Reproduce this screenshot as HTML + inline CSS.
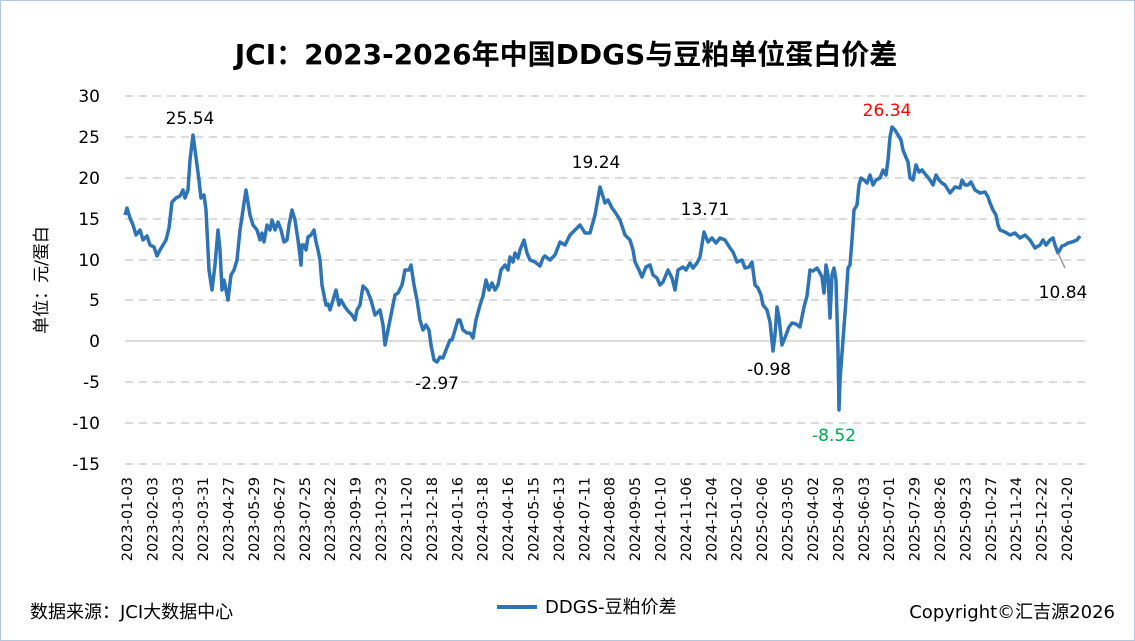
<!DOCTYPE html>
<html><head><meta charset="utf-8"><style>
body{margin:0;background:#fff;}
svg{display:block;font-family:"DejaVu Sans","Noto Sans CJK SC",sans-serif;}
</style></head><body>
<svg width="1135" height="641" viewBox="0 0 1135 641">
<rect x="0.5" y="0.5" width="1134" height="640" fill="#fff" stroke="#b4c7dc"/>
<text x="566" y="64" text-anchor="middle" font-size="28" font-weight="bold" fill="#000">JCI：2023-2026年中国DDGS与豆粕单位蛋白价差</text>
<g stroke="#d0d0d0" stroke-width="1.5" stroke-dasharray="8,6">
<line x1="125" y1="96" x2="1085" y2="96"/><line x1="125" y1="137" x2="1085" y2="137"/>
<line x1="125" y1="178" x2="1085" y2="178"/><line x1="125" y1="219" x2="1085" y2="219"/>
<line x1="125" y1="260" x2="1085" y2="260"/><line x1="125" y1="300" x2="1085" y2="300"/>
<line x1="125" y1="382" x2="1085" y2="382"/><line x1="125" y1="423" x2="1085" y2="423"/>
<line x1="125" y1="464" x2="1085" y2="464"/>
</g>
<line x1="125" y1="341" x2="1085" y2="341" stroke="#d0d0d0" stroke-width="1.5"/>
<g font-size="17" fill="#000" text-anchor="end">
<text x="100" y="102">30</text><text x="100" y="143">25</text><text x="100" y="184">20</text>
<text x="100" y="225">15</text><text x="100" y="266">10</text><text x="100" y="306">5</text>
<text x="100" y="347">0</text><text x="100" y="388">-5</text><text x="100" y="429">-10</text>
<text x="100" y="470">-15</text>
</g>
<text transform="translate(47,280) rotate(-90)" text-anchor="middle" font-size="17">单位：元/蛋白</text>
<g font-size="14.5" fill="#000" text-anchor="end" id="xl"></g>
<polyline fill="none" stroke="#2e74b5" stroke-width="3.5" stroke-linejoin="round" points="125,215 127,208 130,218 133,225 136,235 140,230 143,240 147,236 150,245 154,247 157,256 160,250 163,245 166,240 169,228 172,202 176,198 180,196 183,190 185,198 188,190 190,160 193,135 195,150 197,165 199,180 201,198 204,195 206,210 209,270 212,290 215,265 218,230 220,250 222,290 224,280 226,290 228,300 231,275 234,270 237,260 240,230 243,210 246,190 250,215 253,225 257,230 260,240 262,233 264,242 267,225 270,230 272,220 275,230 278,222 281,230 284,242 287,240 289,225 292,210 295,220 298,240 300,256 301,265 302,245 304,245 306,250 308,237 311,235 314,230 316,242 318,250 320,260 322,285 324,295 326,305 328,304 330,310 333,300 336,290 339,305 341,300 345,307 348,311 352,315 355,320 357,310 360,305 363,286 367,290 371,300 375,315 380,310 383,325 385,345 388,330 390,320 392,310 395,295 398,293 402,285 405,270 409,270 411,265 414,285 417,300 420,320 423,330 426,325 429,330 431,345 434,360 437,362 440,357 443,358 446,350 450,340 452,340 455,330 458,320 460,320 463,330 467,333 470,333 473,338 476,320 480,305 483,296 486,280 489,290 492,283 495,290 498,285 501,270 505,265 508,270 510,257 513,262 515,253 518,258 520,250 524,240 527,253 530,260 535,262 540,266 543,258 545,256 550,260 555,255 560,242 565,245 570,235 575,230 580,225 585,233 590,233 595,215 600,187 605,203 608,200 612,208 615,212 620,220 625,235 630,240 633,250 635,262 639,270 642,277 646,267 650,265 653,275 657,278 660,285 663,282 668,270 672,278 675,290 678,270 683,267 686,270 690,263 693,268 697,263 700,257 704,232 708,242 712,238 716,243 720,238 725,240 730,248 733,252 737,262 742,260 745,268 749,267 752,262 755,285 758,288 761,295 763,305 767,310 770,322 773,351 775,335 777,307 779,318 782,345 786,335 789,327 792,323 796,324 800,327 804,307 807,296 810,270 813,271 817,268 820,273 822,277 824,293 826,265 828,275 830,318 832,275 834,268 836,280 838,350 839,410 840,380 843,340 846,300 848,268 850,265 852,240 854,210 857,205 859,185 861,178 864,180 867,183 870,175 873,185 876,180 880,178 883,170 886,175 888,160 890,137 892,127 895,130 898,135 901,140 903,150 905,155 908,162 910,178 913,180 916,165 919,172 922,170 926,175 930,180 933,185 936,175 939,180 942,183 945,185 950,193 955,187 960,188 962,180 965,185 968,185 971,182 975,190 980,193 985,192 988,197 990,203 993,210 996,215 998,225 1000,230 1005,232 1010,235 1015,233 1020,238 1025,235 1030,240 1035,248 1040,245 1043,240 1046,245 1050,240 1053,238 1055,245 1058,253 1062,246 1065,245 1068,243 1072,242 1077,240 1080,236"/>
<line x1="1058" y1="253" x2="1065" y2="268" stroke="#999" stroke-width="1.5"/>
<g font-size="17" fill="#000" text-anchor="middle">
<text x="190" y="124">25.54</text>
<text x="437" y="389">-2.97</text>
<text x="596" y="168">19.24</text>
<text x="705" y="215">13.71</text>
<text x="769" y="375">-0.98</text>
<text x="1063" y="298">10.84</text>
<text x="887" y="116" fill="#ff0000">26.34</text>
<text x="834" y="441" fill="#00a550">-8.52</text>
</g>
<line x1="497" y1="607" x2="537" y2="607" stroke="#2e74b5" stroke-width="4"/>
<text x="545" y="613" font-size="18">DDGS-豆粕价差</text>
<text x="30" y="618" font-size="18">数据来源：JCI大数据中心</text>
<text x="1115" y="618" font-size="18" text-anchor="end">Copyright©汇吉源2026</text>
</svg>
<script>
var d=["2023-01-03","2023-02-03","2023-03-03","2023-03-31","2023-04-27","2023-05-29","2023-06-27","2023-07-25","2023-08-22","2023-09-19","2023-10-23","2023-11-20","2023-12-18","2024-01-16","2024-03-18","2024-04-16","2024-05-15","2024-06-13","2024-07-11","2024-08-08","2024-09-05","2024-10-10","2024-11-06","2024-12-04","2025-01-02","2025-02-06","2025-03-05","2025-04-02","2025-04-30","2025-06-03","2025-07-01","2025-07-29","2025-08-26","2025-09-23","2025-10-27","2025-11-24","2025-12-22","2026-01-20"];
var g=document.getElementById("xl"),ns="http://www.w3.org/2000/svg",n=d.length;
for(var i=0;i<n;i++){var x=132+i*(1072-132)/(n-1);var t=document.createElementNS(ns,"text");
t.setAttribute("transform","translate("+x+",477) rotate(-90)");t.textContent=d[i];g.appendChild(t);}
</script>
</body></html>
